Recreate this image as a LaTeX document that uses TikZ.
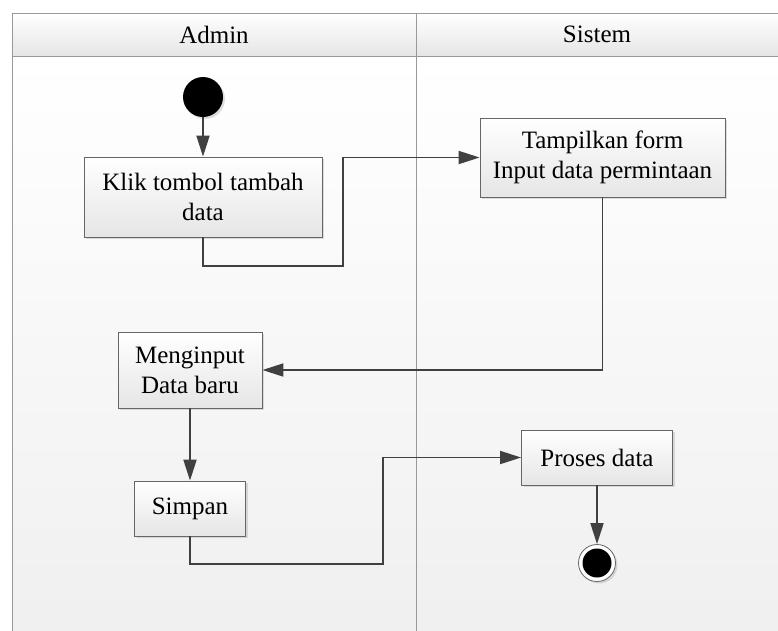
\documentclass[tikz,border=0pt]{standalone}
\usepackage{fontspec}
\setmainfont{Liberation Serif}
\newfontfamily\diagfont{Liberation Serif}
\usepackage{tikz}
\usetikzlibrary{arrows.meta, shadows}

\begin{document}
\begin{tikzpicture}[x=1pt, y=-1pt,
lane/.style = {draw=gray!80, line width=1pt},
activity/.style = {shape=rectangle, draw=black!60, line width=0.8pt, top color=white,
    bottom color=black!10, align=center, inner sep=0pt,
    drop shadow={shadow xshift=2pt, shadow yshift=-2pt, opacity=0.25}},
flow/.style = {draw=black!75, line width=1.8pt,
    -{Triangle[length=21pt, width=13pt]}},
every node/.style = {font=\diagfont\fontsize{25}{30}\selectfont}]
\useasboundingbox (0,0) rectangle (778,630);
\clip (0,0) rectangle (778,630);
% swimlanes
\shade[top color=white, bottom color=black!6] (12,56) rectangle (778,631);
\shade[top color=white, bottom color=black!10] (12,13) rectangle (778,56);
\draw[lane] (12,631) -- (12,13) -- (778,13);
\draw[lane] (12,56) -- (778,56);
\draw[lane] (416,13) -- (416,631);
\node (admin) at (214,34.5) {Admin};
\node (sistem) at (597,34.5) {Sistem};
% start and end
\node (start) [circle, fill=black, minimum size=40pt, inner sep=0pt,
    drop shadow={shadow xshift=2pt, shadow yshift=-2pt, opacity=0.25}] at (203,97) {};
\node (end) [circle, draw=black!60, fill=white, line width=0.8pt, minimum size=37pt,
    inner sep=0pt, drop shadow={shadow xshift=2pt, shadow yshift=-2pt, opacity=0.25}] at (597,563) {};
\node (endin) [circle, fill=black, minimum size=29pt, inner sep=0pt] at (end) {};
% activities
\node (klik) [activity, minimum width=238pt, minimum height=80pt] at (203,197)
    {Klik tombol tambah\\data};
\node (tampil) [activity, minimum width=245pt, minimum height=79pt] at (602.5,157.5)
    {Tampilkan form\\Input data permintaan};
\node (input) [activity, minimum width=144pt, minimum height=76pt] at (190,370)
    {Menginput\\Data baru};
\node (simpan) [activity, minimum width=111pt, minimum height=55pt] at (190,508.5)
    {Simpan};
\node (proses) [activity, minimum width=151pt, minimum height=55pt] at (597,457.5)
    {Proses data};
% bends
\coordinate (b1) at (343,266);
\coordinate (b2) at (383,564);
% flows
\draw[flow] (start) -- (klik);
\draw[flow] (klik.south) |- (b1) |- (tampil.west);
\draw[flow] (tampil.south) |- (input.east);
\draw[flow] (input) -- (simpan);
\draw[flow] (simpan.south) |- (b2) |- (proses.west);
\draw[flow] (proses) -- (end);
\end{tikzpicture}
\end{document}
